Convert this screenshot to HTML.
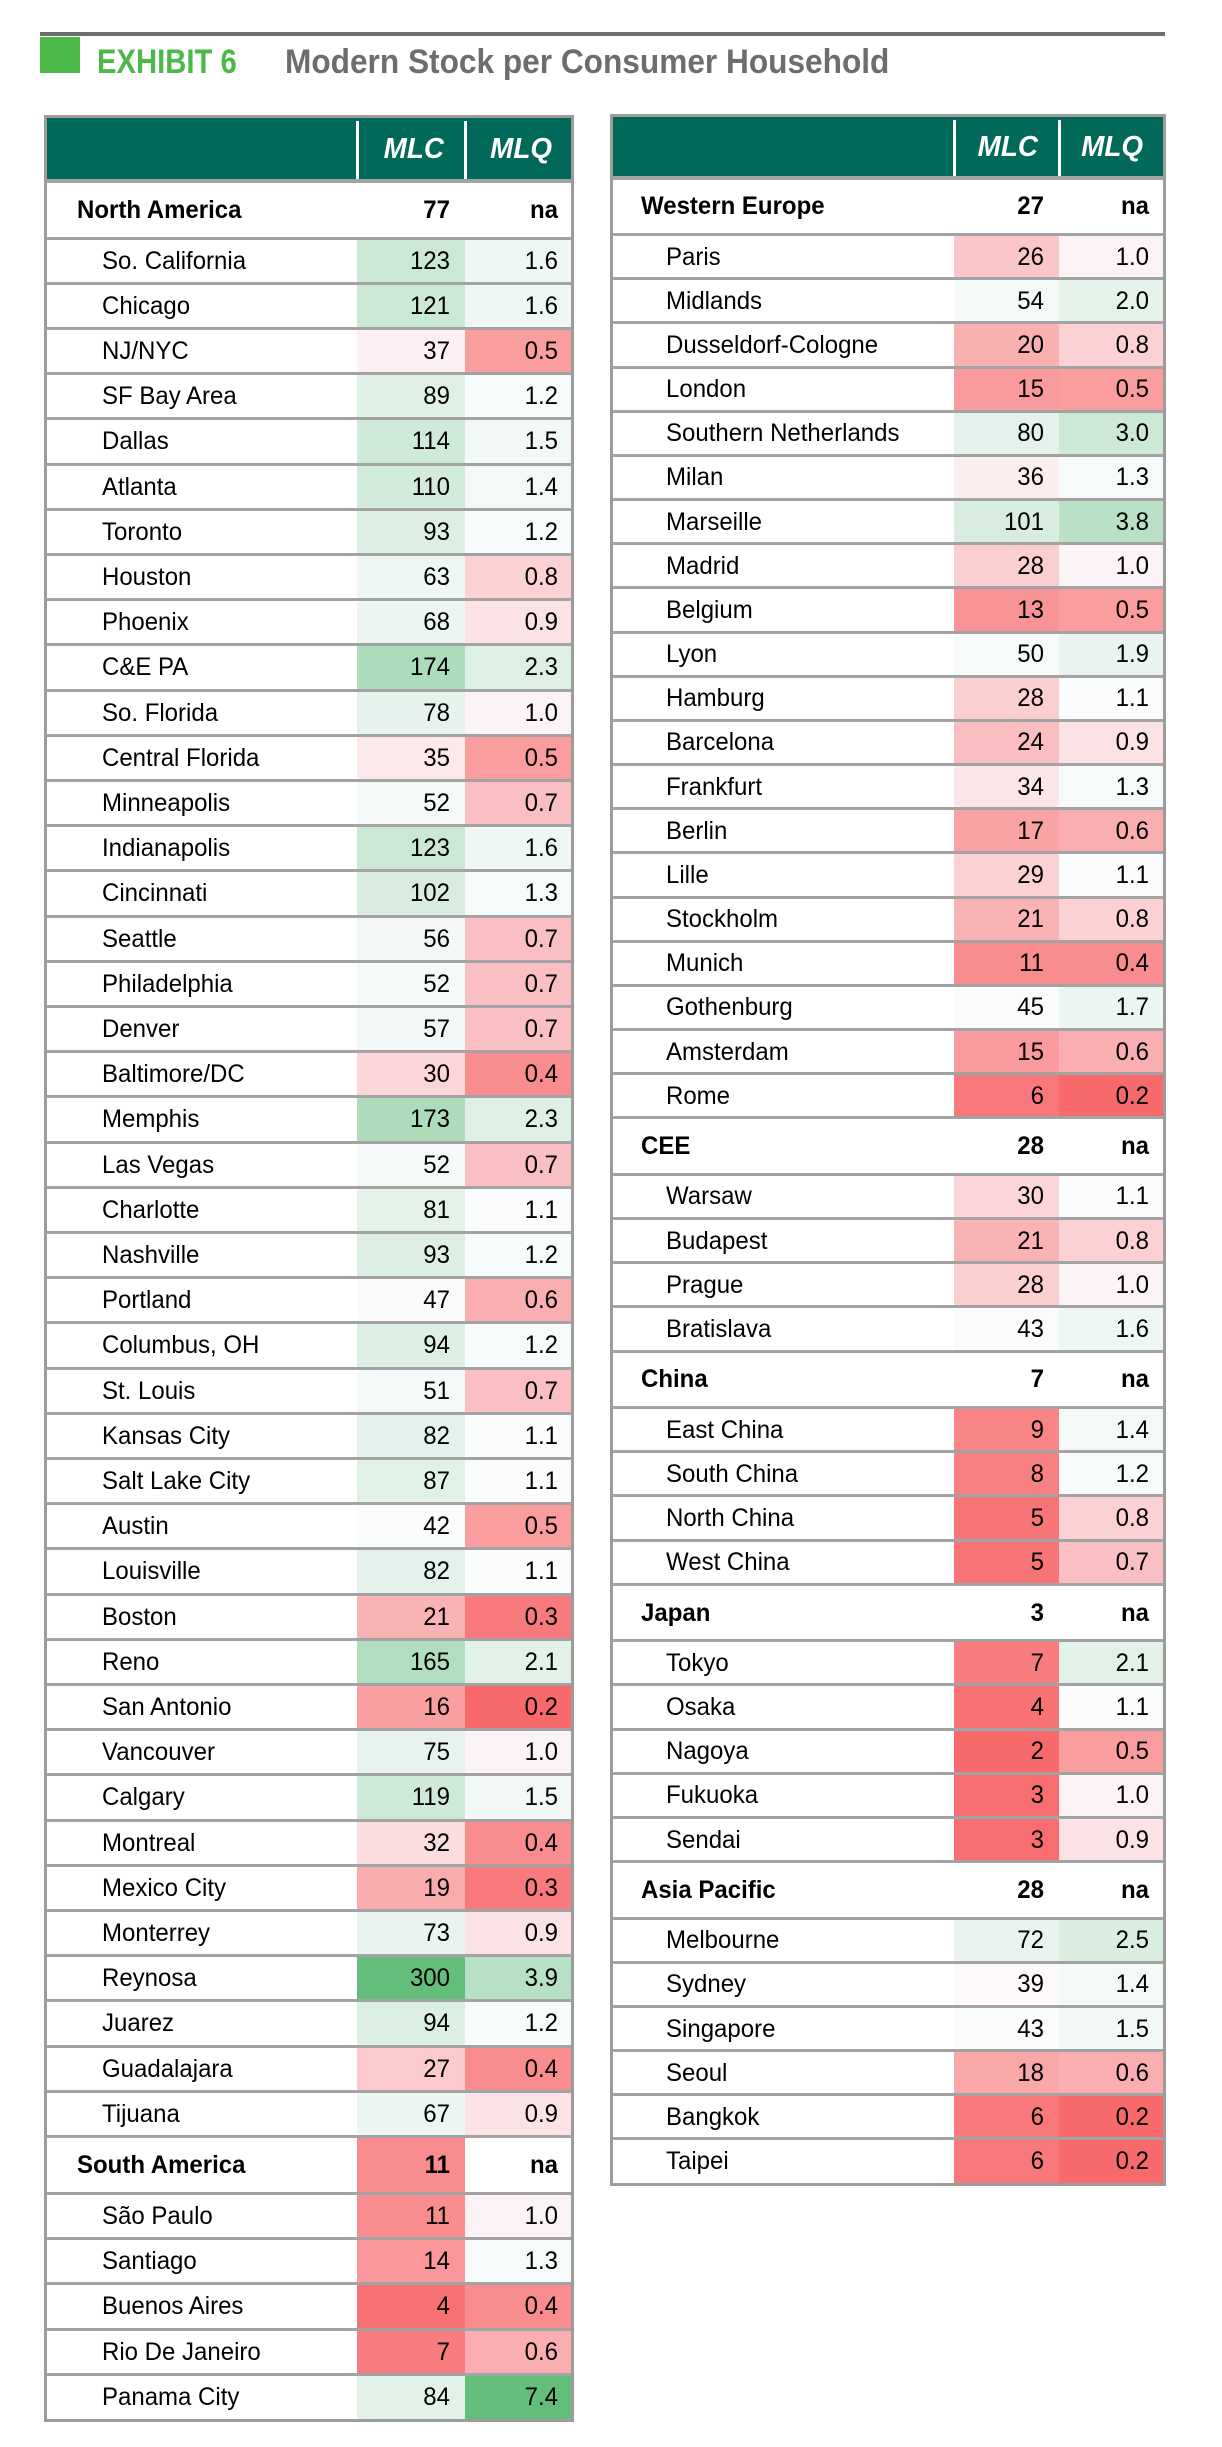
<!DOCTYPE html>
<html><head><meta charset="utf-8">
<style>
html,body{margin:0;padding:0;background:#fff;}
body{width:1222px;height:2447px;position:relative;overflow:hidden;font-family:"Liberation Sans",Arial,sans-serif;}
.abs{position:absolute;}
.t{position:absolute;white-space:nowrap;font-size:25px;color:#000;line-height:1;}
.l{transform:scaleX(0.96);transform-origin:left center;}
.r{transform:scaleX(0.96);transform-origin:right center;text-align:right;}
.b{font-weight:bold;}
</style></head>
<body>
<div class="abs" style="left:40px;top:32px;width:1125px;height:4px;background:#6d6d6d"></div>
<div class="abs" style="left:40px;top:37px;width:40px;height:36px;background:#4cb848"></div>
<div class="t b" style="left:97px;top:45px;font-size:34px;color:#4cb848;transform:scaleX(0.86);transform-origin:left center">EXHIBIT 6</div>
<div class="t b" style="left:285px;top:45px;font-size:34px;color:#6d6d6d;transform:scaleX(0.93);transform-origin:left center">Modern Stock per Consumer Household</div>
<div id="root"></div>
<script>
// Left table data
const leftNames = ["North America","So. California","Chicago","NJ/NYC","SF Bay Area","Dallas","Atlanta","Toronto","Houston","Phoenix","C&E PA","So. Florida","Central Florida","Minneapolis","Indianapolis","Cincinnati","Seattle","Philadelphia","Denver","Baltimore/DC","Memphis","Las Vegas","Charlotte","Nashville","Portland","Columbus, OH","St. Louis","Kansas City","Salt Lake City","Austin","Louisville","Boston","Reno","San Antonio","Vancouver","Calgary","Montreal","Mexico City","Monterrey","Reynosa","Juarez","Guadalajara","Tijuana","South America","São Paulo","Santiago","Buenos Aires","Rio De Janeiro","Panama City"];
const leftMLC = [77,123,121,37,89,114,110,93,63,68,174,78,35,52,123,102,56,52,57,30,173,52,81,93,47,94,51,82,87,42,82,21,165,16,75,119,32,19,73,300,94,27,67,11,11,14,4,7,84];
const leftMLQ = [null,1.6,1.6,0.5,1.2,1.5,1.4,1.2,0.8,0.9,2.3,1.0,0.5,0.7,1.6,1.3,0.7,0.7,0.7,0.4,2.3,0.7,1.1,1.2,0.6,1.2,0.7,1.1,1.1,0.5,1.1,0.3,2.1,0.2,1.0,1.5,0.4,0.3,0.9,3.9,1.2,0.4,0.9,null,1.0,1.3,0.4,0.6,7.4];
const leftHeaders = [0,43];
const leftColoredHeaders = [43];
// Right table data
const rightNames = ["Western Europe","Paris","Midlands","Dusseldorf-Cologne","London","Southern Netherlands","Milan","Marseille","Madrid","Belgium","Lyon","Hamburg","Barcelona","Frankfurt","Berlin","Lille","Stockholm","Munich","Gothenburg","Amsterdam","Rome","CEE","Warsaw","Budapest","Prague","Bratislava","China","East China","South China","North China","West China","Japan","Tokyo","Osaka","Nagoya","Fukuoka","Sendai","Asia Pacific","Melbourne","Sydney","Singapore","Seoul","Bangkok","Taipei"];
const rightMLC = [27,26,54,20,15,80,36,101,28,13,50,28,24,34,17,29,21,11,45,15,6,28,30,21,28,43,7,9,8,5,5,3,7,4,2,3,3,28,72,39,43,18,6,6];
const rightMLQ = [null,1.0,2.0,0.8,0.5,3.0,1.3,3.8,1.0,0.5,1.9,1.1,0.9,1.3,0.6,1.1,0.8,0.4,1.7,0.6,0.2,null,1.1,0.8,1.0,1.6,null,1.4,1.2,0.8,0.7,null,2.1,1.1,0.5,1.0,0.9,null,2.5,1.4,1.5,0.6,0.2,0.2];
const rightHeaders = [0,21,26,31,37];
const rightColoredHeaders = [];

const RED=[248,105,107], MID=[252,252,255], GRN=[99,190,123];
function scale(v,min,mid,max){
  let c,t;
  if(v<=mid){t=(mid-v)/(mid-min);c=RED;} else {t=(v-mid)/(max-mid);c=GRN;}
  t=Math.max(0,Math.min(1,t));
  return 'rgb('+MID.map((m,i)=>Math.round(m+(c[i]-m)*t)).join(',')+')';
}
const mlcColor=v=>scale(v,2,40,300);
const mlqColor=v=>scale(v,0.2,1.05,7.4);

const root=document.getElementById('root');
function mk(parent,cls,style,text){
  const d=document.createElement('div');
  d.className=cls; d.style.cssText=style;
  if(text!==undefined) d.textContent=text;
  parent.appendChild(d); return d;
}
function buildTable(cfg){
  const {names,mlc,mlq,headers,colored,x0,x1,c1,c2,top,hdrBottom,H,h,labelX,cityX,mlcR,mlqR,key}=cfg;
  const tbl=mk(root,'abs','left:0;top:0;');
  
  
  const hd=mk(tbl,'abs',`left:${x0}px;top:${top}px;width:${x1-x0}px;height:${hdrBottom-top}px;background:#00695a;`);
  
  
  mk(tbl,'abs',`left:${c1-1}px;top:${top+3}px;width:3px;height:${hdrBottom-top-3}px;background:#fff;`);
  mk(tbl,'abs',`left:${c2-1}px;top:${top+3}px;width:3px;height:${hdrBottom-top-3}px;background:#fff;`);
  const hy=(top+hdrBottom)/2-15;
  const h1=mk(tbl,'t b r',`left:${c1}px;width:${mlcR-6-c1}px;top:${hy}px;color:#fff;font-style:italic;font-size:29px;`,'MLC');
  
  
  const h2=mk(tbl,'t b r',`left:${c2}px;width:${mlqR-6-c2}px;top:${hy}px;color:#fff;font-style:italic;font-size:29px;`,'MLQ');
  
  
  let y=hdrBottom;
  const lines=[];
  for(let i=0;i<names.length;i++){
    const isH=headers.includes(i);
    const rh=isH?H:h;
    const row=mk(tbl,'abs',`left:${x0}px;top:${y}px;width:${x1-x0}px;height:${rh}px;`);
    
    
    const mlcBg=(!isH||colored.includes(i))?mlcColor(mlc[i]):'#fff';
    const mlqBg=(mlq[i]===null)?'#fff':mlqColor(mlq[i]);
    const cA=mk(tbl,'abs',`left:${c1}px;top:${y}px;width:${c2-c1}px;height:${rh}px;background:${mlcBg};`);
    
    
    const cB=mk(tbl,'abs',`left:${c2}px;top:${y}px;width:${x1-c2}px;height:${rh}px;background:${mlqBg};`);
    
    
    const ty=y+rh/2-12;
    const n=mk(tbl,'t l'+(isH?' b':''),`left:${isH?labelX:cityX}px;top:${ty}px;`,names[i]);
    
    
    const a=mk(tbl,'t r'+(isH?' b':''),`left:${c1}px;width:${mlcR-c1}px;top:${ty}px;`,String(mlc[i]));
    
    
    const b=mk(tbl,'t r'+(isH?' b':''),`left:${c2}px;width:${mlqR-c2}px;top:${ty}px;`,mlq[i]===null?'na':mlq[i].toFixed(1));
    
    
    y+=rh; lines.push(y);
  }
  lines.slice(0,-1).forEach(ly=>{mk(tbl,'abs',`left:${x0}px;top:${ly-1.5}px;width:${x1-x0}px;height:3px;background:#a3a3a3;`);});
  mk(tbl,'abs',`left:${x0}px;top:${hdrBottom-2}px;width:${x1-x0}px;height:4px;background:#a3a3a3;`);
  mk(tbl,'abs',`left:${x0-3}px;top:${top-3}px;width:${x1-x0}px;height:${y-top}px;border:3px solid #9c9c9c;`);
}
buildTable({key:'left',names:leftNames,mlc:leftMLC,mlq:leftMLQ,headers:leftHeaders,colored:leftColoredHeaders,
  x0:47,x1:571,c1:357,c2:465,top:118,hdrBottom:181,H:57,h:45.2,labelX:77,cityX:102,mlcR:450,mlqR:558});
buildTable({key:'right',names:rightNames,mlc:rightMLC,mlq:rightMLQ,headers:rightHeaders,colored:rightColoredHeaders,
  x0:613,x1:1163,c1:954,c2:1059,top:117,hdrBottom:178,H:56.5,h:44.17,labelX:641,cityX:666,mlcR:1044,mlqR:1149});
</script>
</body></html>
